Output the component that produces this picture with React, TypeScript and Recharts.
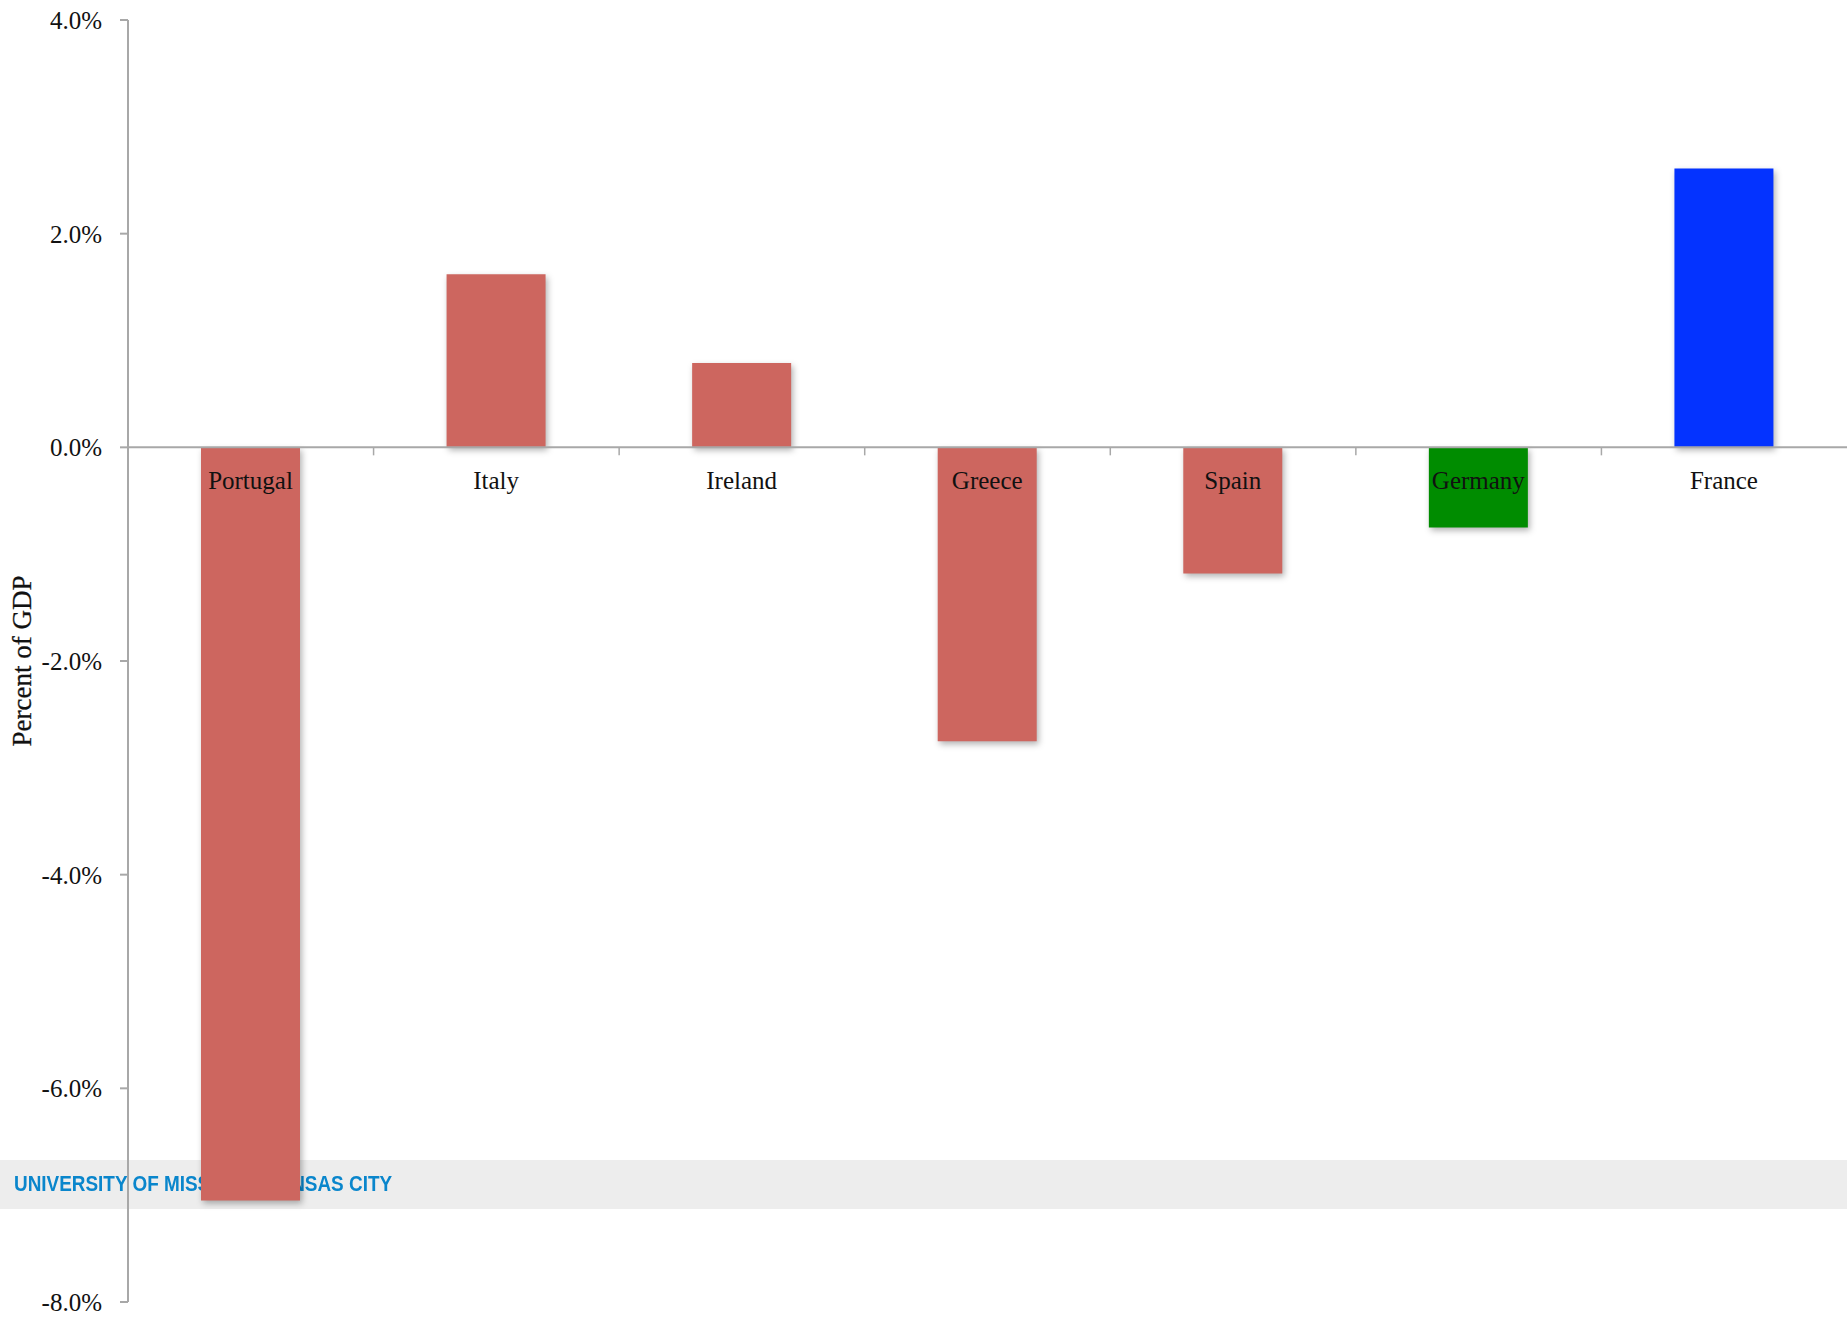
import React from "react";
import {
  BarChart,
  Bar,
  XAxis,
  YAxis,
  Cell,
  LabelList,
  ReferenceLine,
} from "recharts";

const countries = ["Portugal", "Italy", "Ireland", "Greece", "Spain", "Germany", "France"];
const balances = [-7.05, 1.62, 0.79, -2.75, -1.18, -0.75, 2.61];
const barColors = ["#CD665F", "#CD665F", "#CD665F", "#CD665F", "#CD665F", "#008C00", "#0433FF"];
const yTicks = [-8, -6, -4, -2, 0, 2, 4];

const data = countries.map((country, i) => ({ country, value: balances[i] }));

const SERIF = "'Liberation Serif', 'DejaVu Serif', serif";
const AXIS_GREY = "#A8A8A8";

// zero line plus the little ticks between categories
const ZeroAxis = (props: any) => {
  const { x1, x2, y1 } = props;
  const band = (x2 - x1) / countries.length;
  return (
    <g>
      <line x1={x1} x2={x2} y1={y1} y2={y1} stroke={AXIS_GREY} strokeWidth={2} />
      {countries.slice(1).map((_, k) => (
        <line
          key={k}
          x1={x1 + (k + 1) * band}
          x2={x1 + (k + 1) * band}
          y1={y1}
          y2={y1 + 8}
          stroke={AXIS_GREY}
          strokeWidth={1.5}
        />
      ))}
    </g>
  );
};

// country names just under the zero line, drawn above the bars
const CountryLabel = (props: any) => {
  const { x, y, width, height, index } = props;
  const v = balances[index];
  let zeroY = y + height;
  if (height >= 0 && v < 0) zeroY = y;
  return (
    <text
      x={x + width / 2}
      y={zeroY + 42}
      textAnchor="middle"
      fontFamily={SERIF}
      fontSize={25}
      fill="#111"
    >
      {countries[index]}
    </text>
  );
};

const YLabel = (props: any) => {
  const { viewBox } = props;
  const cx = 22;
  const cy = viewBox.y + viewBox.height / 2;
  return (
    <text
      x={cx}
      y={cy}
      textAnchor="middle"
      dominantBaseline="central"
      transform={`rotate(-90, ${cx}, ${cy})`}
      fontFamily={SERIF}
      fontSize={27}
      fill="#111"
      stroke="#111"
      strokeWidth={0.3}
    >
      Percent of GDP
    </text>
  );
};

export default function App() {
  return (
    <div
      style={{
        position: "absolute",
        top: 0,
        left: 0,
        width: 1847,
        height: 1319,
        background: "#fff",
        overflow: "hidden",
      }}
    >
      <div
        style={{
          position: "absolute",
          top: 1160,
          left: 0,
          width: 1847,
          height: 49,
          background: "#EDEDED",
        }}
      >
        <span
          style={{
            position: "absolute",
            left: 14,
            top: 11,
            fontFamily: "'Liberation Sans', Arial, sans-serif",
            fontWeight: 700,
            fontSize: 22,
            lineHeight: "26px",
            color: "#0A86CC",
            whiteSpace: "nowrap",
            transform: "scaleX(0.86)",
            transformOrigin: "left center",
          }}
        >
          UNIVERSITY OF MISSOURI-KANSAS CITY
        </span>
      </div>
      <div style={{ position: "absolute", top: 0, left: 0 }}>
        <BarChart
          width={1847}
          height={1319}
          data={data}
          margin={{ top: 20, right: 0, bottom: 17, left: 0 }}
          barSize={99}
        >
          <XAxis dataKey="country" hide />
          <YAxis
            width={128}
            domain={[-8, 4]}
            ticks={yTicks}
            interval={0}
            tickFormatter={(v: number) => `${v.toFixed(1)}%`}
            axisLine={{ stroke: AXIS_GREY, strokeWidth: 2 }}
            tickLine={{ stroke: AXIS_GREY, strokeWidth: 2 }}
            tickSize={8}
            tickMargin={18}
            tick={{ fill: "#111", fontFamily: SERIF, fontSize: 25 }}
            label={<YLabel />}
          />
          <ReferenceLine y={0} shape={<ZeroAxis />} />
          <Bar dataKey="value" isAnimationActive={false}>
            {data.map((d, i) => (
              <Cell
                key={d.country}
                fill={barColors[i]}
                style={{ filter: "drop-shadow(2px 3px 3px rgba(0,0,0,0.3))" }}
              />
            ))}
            <LabelList dataKey="country" content={<CountryLabel />} />
          </Bar>
        </BarChart>
      </div>
    </div>
  );
}
